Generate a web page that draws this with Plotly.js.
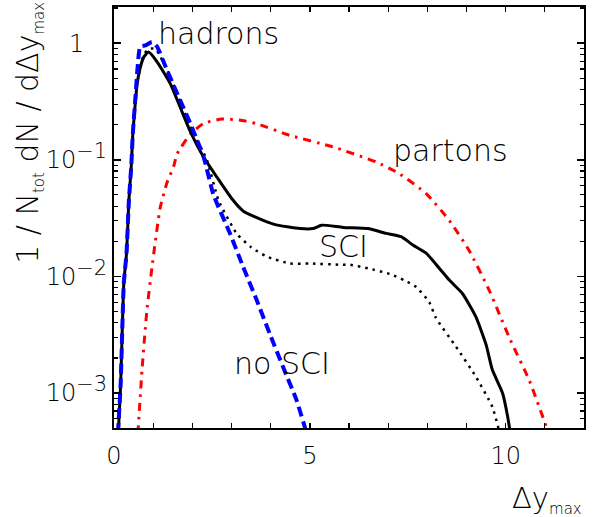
<!DOCTYPE html>
<html>
<head>
<meta charset="utf-8">
<script src="https://cdn.plot.ly/plotly-3.0.1.min.js"></script>
<style>html,body{margin:0;padding:0;background:#fff;}</style>
</head>
<body>
<div id="chart" style="width:603px;height:517px;"></div>
<script>
// SCI hadrons (solid black)
const sciX = [0.11,0.17,0.25,0.32,0.38,0.44,0.48,0.55,0.59,0.67,0.76,0.88,1.10,1.44,1.69,1.95,2.29,2.63,3.00,3.30,3.47,4.09,4.75,5.08,5.30,5.85,6.48,6.95,7.33,7.63,7.97,8.31,8.56,8.90,9.24,9.50,9.66,9.92,10.05,10.12];
const sciY = [0.00045,0.0012,0.0087,0.0158,0.0447,0.0871,0.166,0.324,0.447,0.617,0.759,0.838,0.692,0.447,0.282,0.174,0.105,0.0708,0.0468,0.0363,0.0339,0.0279,0.0257,0.0257,0.0275,0.0263,0.0257,0.0234,0.0219,0.0186,0.0158,0.0117,0.0093,0.0071,0.0045,0.0026,0.00158,0.001,0.00063,0.00045];
// SCI hadrons, second estimate (dotted black)
const dotX = [0.11,0.17,0.25,0.32,0.38,0.44,0.48,0.55,0.59,0.67,0.76,0.88,1.06,1.44,1.95,2.37,2.67,3.13,3.50,3.90,4.49,5.00,5.76,6.02,6.50,7.04,7.40,7.72,8.05,8.22,8.73,9.24,9.66,9.85];
const dotY = [0.00045,0.0012,0.0087,0.0158,0.0447,0.0871,0.166,0.324,0.447,0.617,0.794,0.891,0.891,0.513,0.191,0.1,0.0447,0.0234,0.0178,0.0148,0.0129,0.0129,0.0126,0.0126,0.0117,0.0105,0.0093,0.0081,0.0060,0.0044,0.0025,0.00138,0.00076,0.00045];
// no SCI hadrons (blue dashed)
const noSciX = [0.10,0.17,0.25,0.32,0.38,0.44,0.48,0.55,0.60,0.67,0.80,0.97,1.10,1.35,1.61,1.95,2.29,2.54,2.96,3.30,3.64,3.98,4.32,4.66,4.92];
const noSciY = [0.00045,0.0012,0.0087,0.0158,0.0447,0.0871,0.166,0.355,0.603,0.933,0.955,1.023,0.933,0.589,0.372,0.204,0.105,0.0501,0.0234,0.012,0.0063,0.0032,0.00166,0.00087,0.00045];
// partons (red dash-dot)
const partX = [0.61,0.72,0.84,0.97,1.18,1.35,1.52,1.61,1.95,2.28,2.75,3.20,3.64,4.49,5.59,6.70,7.29,7.97,8.56,9.07,9.58,10.09,10.60,11.10];
const partY = [0.00045,0.00166,0.0051,0.012,0.0389,0.0631,0.0871,0.112,0.166,0.204,0.224,0.219,0.204,0.162,0.129,0.0955,0.0759,0.0513,0.0302,0.0166,0.0076,0.0030,0.00129,0.00045];

const xTickVals = [0, 5, 10];
const xTickLabels = ['0', '5', '10'];
const yTickVals = [1, 0.1, 0.01, 0.001];
const yTickBase = ['1', '10', '10', '10'];
const yTickExp = ['', '−1', '−2', '−3'];

const FONT = 'DejaVu Sans, sans-serif';
const W = 200;
const yTickText = yTickBase.map((b, i) => yTickExp[i]
  ? b + '<sup><span style="font-size:21px">' + yTickExp[i] + '</span></sup>'
  : b + '&nbsp;&nbsp;&nbsp;');

const traces = [
  {x: partX, y: partY, mode: 'lines', line: {color: '#ff0000', width: 3, dash: '8px,6px,2.5px,6px', shape: 'spline', smoothing: 0.5}},
  {x: dotX, y: dotY, mode: 'lines', line: {color: '#000000', width: 2.5, dash: '2.5px,5px', shape: 'spline', smoothing: 0.5}},
  {x: sciX, y: sciY, mode: 'lines', line: {color: '#000000', width: 3, shape: 'spline', smoothing: 0.5}},
  {x: noSciX, y: noSciY, mode: 'lines', line: {color: '#0000ff', width: 4, dash: '10px,5px', shape: 'spline', smoothing: 0.5}}
];

const sub = t => '<sub><span style="font-size:15px">' + t + '</span></sub>';

const layout = {
  width: 603, height: 517,
  margin: {l: 114, r: 19, t: 6.5, b: 89},
  paper_bgcolor: '#fff', plot_bgcolor: '#fff',
  showlegend: false,
  font: {family: FONT, color: '#000', size: 24, weight: W},
  xaxis: {
    range: [0, 12], tickmode: 'array', tickvals: xTickVals, ticktext: xTickLabels,
    ticks: 'inside', ticklen: 5, tickwidth: 1.5, tickcolor: '#000',
    showline: true, linewidth: 2, linecolor: '#000', mirror: 'ticks',
    showgrid: false, zeroline: false, tickfont: {size: 24, family: FONT, weight: W},
    ticklabelstandoff: 5,
    minor: {dtick: 1, ticks: 'inside', ticklen: 5, tickwidth: 1.2, tickcolor: '#000', showgrid: false}
  },
  yaxis: {
    type: 'log', range: [-3.30, 0.31], tickmode: 'array', tickvals: yTickVals, ticktext: yTickText,
    ticks: 'inside', ticklen: 7, tickwidth: 1.5, tickcolor: '#000',
    showline: true, linewidth: 2, linecolor: '#000', mirror: 'ticks',
    showgrid: false, zeroline: false, tickfont: {size: 24, family: FONT, weight: W},
    minor: {dtick: 'D1', ticks: 'inside', ticklen: 4, tickwidth: 1.2, tickcolor: '#000', showgrid: false}
  },
  annotations: [
    {text: 'hadrons', xref: 'paper', yref: 'paper', x: 0.222, y: 0.937, showarrow: false, xanchor: 'center', yanchor: 'middle', font: {size: 30, family: FONT, weight: W}},
    {text: 'partons', xref: 'paper', yref: 'paper', x: 0.715, y: 0.660, showarrow: false, xanchor: 'center', yanchor: 'middle', font: {size: 30, family: FONT, weight: W}},
    {text: 'SCI', xref: 'paper', yref: 'paper', x: 0.488, y: 0.431, showarrow: false, xanchor: 'center', yanchor: 'middle', font: {size: 30, family: FONT, weight: W}},
    {text: 'no SCI', xref: 'paper', yref: 'paper', x: 0.357, y: 0.154, showarrow: false, xanchor: 'center', yanchor: 'middle', font: {size: 30, family: FONT, weight: W}},
    {text: 'Δy' + sub('max'), xref: 'paper', yref: 'paper', x: 1.0, y: -0.170, showarrow: false, xanchor: 'right', yanchor: 'middle', font: {size: 29, family: FONT, weight: W}},
    {text: '1 / N' + sub('tot') + ' dN / dΔy' + sub('max'), xref: 'paper', yref: 'paper', x: -0.181, y: 0.701, textangle: -90, showarrow: false, xanchor: 'center', yanchor: 'middle', font: {size: 30, family: FONT, weight: W}}
  ]
};

Plotly.newPlot('chart', traces, layout, {displayModeBar: false, staticPlot: true});
</script>
</body>
</html>
